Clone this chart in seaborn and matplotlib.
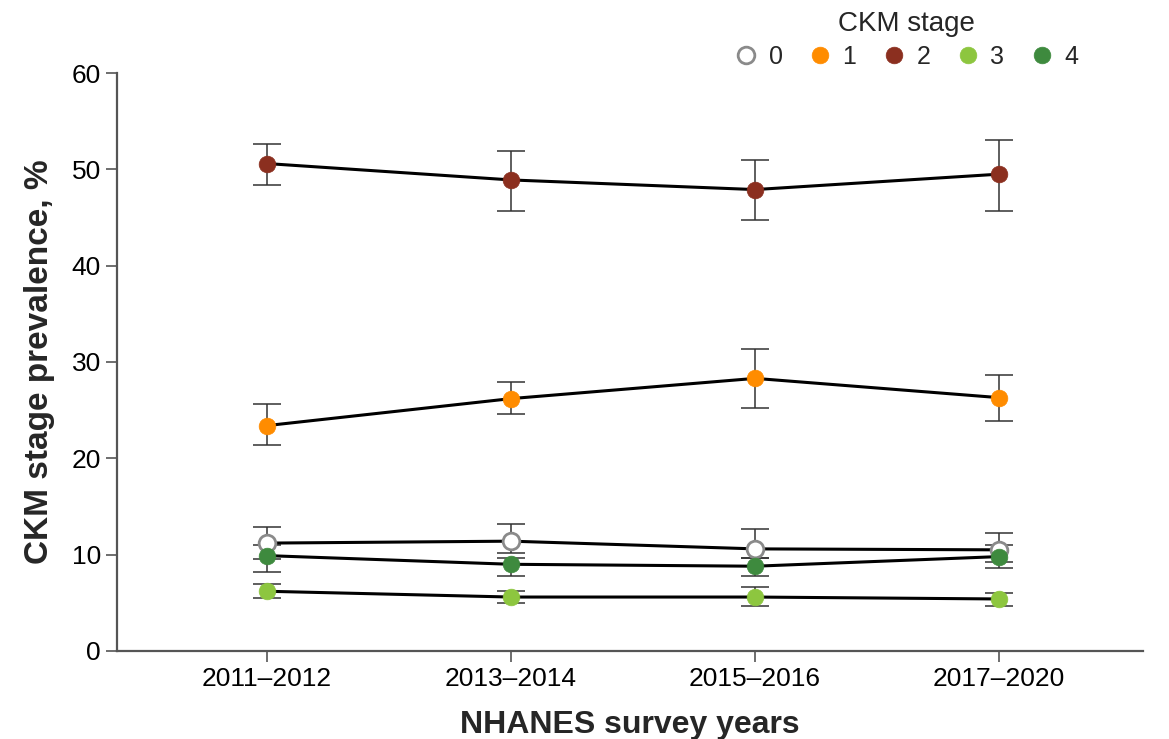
import matplotlib
matplotlib.use("Agg")
import matplotlib.pyplot as plt
from matplotlib.lines import Line2D
import numpy as np
import pandas as pd
import seaborn as sns

# NHANES survey cycles
cycles = ["2011–2012", "2013–2014", "2015–2016", "2017–2020"]
stages = ["0", "1", "2", "3", "4"]

# Prevalence (%) with 95% CI bounds per CKM stage
prev_0 = [11.2, 11.4, 10.6, 10.5]
low_0 = [9.5, 10.2, 9.7, 9.2]
high_0 = [12.9, 13.2, 12.7, 12.3]

prev_1 = [23.4, 26.2, 28.3, 26.3]
low_1 = [21.4, 24.6, 25.2, 23.9]
high_1 = [25.6, 27.9, 31.4, 28.6]

prev_2 = [50.6, 48.9, 47.9, 49.5]
low_2 = [48.4, 45.7, 44.7, 45.7]
high_2 = [52.6, 51.9, 51.0, 53.0]

prev_3 = [6.2, 5.6, 5.6, 5.4]
low_3 = [5.5, 5.0, 4.7, 4.7]
high_3 = [7.0, 6.2, 6.6, 6.0]

prev_4 = [9.9, 9.0, 8.8, 9.8]
low_4 = [8.2, 7.8, 7.8, 8.6]
high_4 = [11.0, 9.7, 9.7, 11.0]

face_colors = ["white", "#FF8C00", "#8B2F1F", "#8DC63F", "#3E8A3E"]
edge_colors = ["#8a8a8a", "#FF8C00", "#8B2F1F", "#8DC63F", "#3E8A3E"]

rows = []
for s, p, lo, hi in zip(stages,
                        [prev_0, prev_1, prev_2, prev_3, prev_4],
                        [low_0, low_1, low_2, low_3, low_4],
                        [high_0, high_1, high_2, high_3, high_4]):
    for i, c in enumerate(cycles):
        rows.append({"stage": s, "cycle": c, "pos": i, "prev": p[i], "low": lo[i], "high": hi[i]})
df = pd.DataFrame(rows)

sns.set_theme(style="ticks")
plt.rcParams["font.family"] = ["Liberation Sans", "DejaVu Sans"]

fig = plt.figure(figsize=(11.69, 7.39), dpi=100)
ax = fig.add_axes([0.1001, 0.1191, 0.8777, 0.7821])

for k, s in enumerate(stages):
    d = df[df["stage"] == s]
    ax.errorbar(d["pos"], d["prev"],
                yerr=[d["prev"] - d["low"], d["high"] - d["prev"]],
                fmt="none", ecolor="#333333", elinewidth=1.1, capsize=10,
                capthick=1.1, zorder=2)
    sns.lineplot(data=d, x="pos", y="prev", color="black", linewidth=2.2,
                 marker="o", markersize=12, markerfacecolor=face_colors[k],
                 markeredgecolor=edge_colors[k],
                 markeredgewidth=2.0 if k == 0 else 0.5,
                 ax=ax, legend=False, zorder=3)

ax.set_xlim(-0.615, 3.59)
ax.set_ylim(0, 60)
ax.set_xticks(range(len(cycles)))
ax.set_xticklabels(cycles)
ax.set_yticks(np.arange(0, 61, 10))
ax.tick_params(axis="both", labelsize=19, colors="#555555", labelcolor="black",
               length=8, width=1.2)
ax.set_xlabel("NHANES survey years", fontsize=23, fontweight="bold", labelpad=14)
ax.set_ylabel("CKM stage prevalence, %", fontsize=24, fontweight="bold", labelpad=12)
for side in ["top", "right"]:
    ax.spines[side].set_visible(False)
for side in ["left", "bottom"]:
    ax.spines[side].set_color("#555555")
    ax.spines[side].set_linewidth(1.6)

handles = [Line2D([], [], linestyle="none", marker="o", markersize=12,
                  markerfacecolor=face_colors[k], markeredgecolor=edge_colors[k],
                  markeredgewidth=2.0 if k == 0 else 0.5)
           for k in range(len(stages))]
leg = fig.legend(handles, stages, title="CKM stage", ncol=5, frameon=False,
                 fontsize=18, title_fontsize=20, loc="upper center",
                 bbox_to_anchor=(0.775, 1.016), handletextpad=0.4,
                 columnspacing=1.0, handlelength=1.0, labelspacing=0.2)
leg._legend_box.sep = 6

fig.savefig("out.png", dpi=100)
